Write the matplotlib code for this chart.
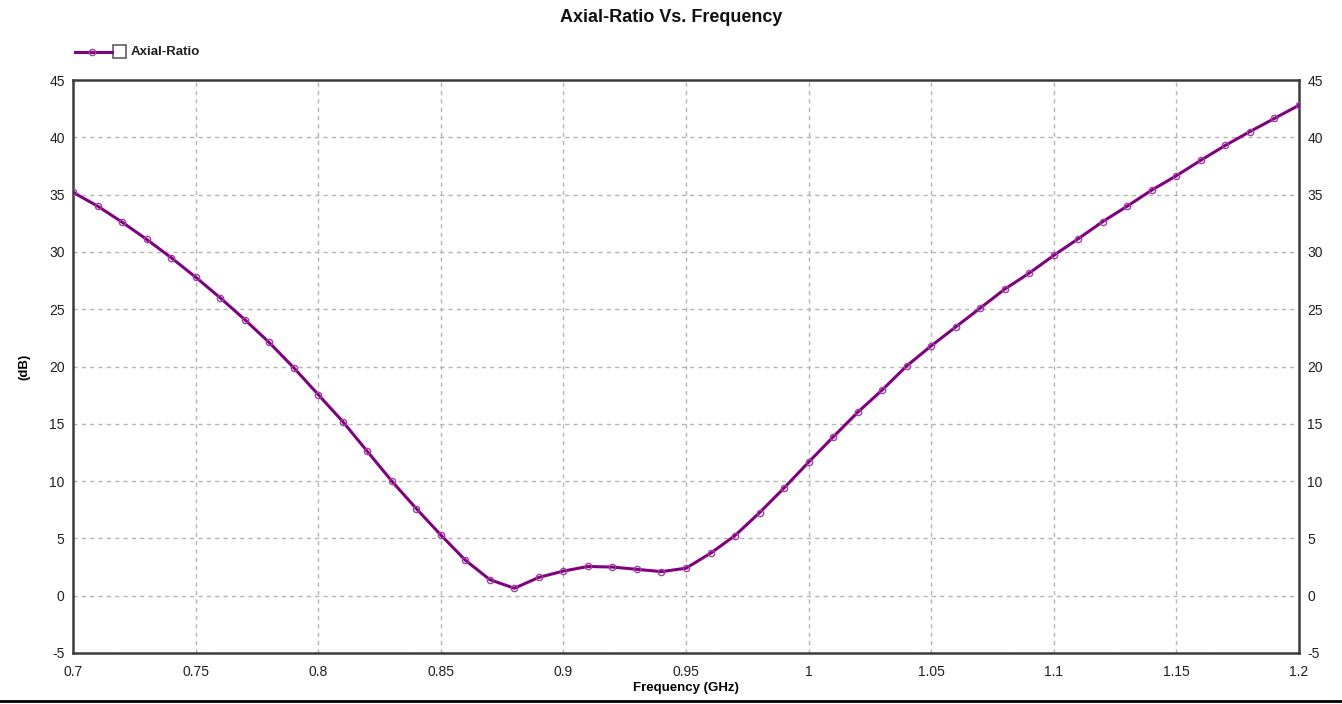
import matplotlib
matplotlib.use("Agg")
import matplotlib.pyplot as plt
from matplotlib.lines import Line2D
from matplotlib.patches import Rectangle

plt.rcParams['font.family'] = ['Liberation Sans', 'DejaVu Sans']
plt.rcParams['axes.unicode_minus'] = False

# Axial ratio sweep, 0.70 - 1.20 GHz in 10 MHz steps
freq_ghz = [0.70, 0.71, 0.72, 0.73, 0.74, 0.75, 0.76, 0.77, 0.78, 0.79,
            0.80, 0.81, 0.82, 0.83, 0.84, 0.85, 0.86, 0.87, 0.88, 0.89,
            0.90, 0.91, 0.92, 0.93, 0.94, 0.95, 0.96, 0.97, 0.98, 0.99,
            1.00, 1.01, 1.02, 1.03, 1.04, 1.05, 1.06, 1.07, 1.08, 1.09,
            1.10, 1.11, 1.12, 1.13, 1.14, 1.15, 1.16, 1.17, 1.18, 1.19,
            1.20]
axial_ratio_db = [35.2, 34.0, 32.6, 31.1, 29.5, 27.8, 26.0, 24.1, 22.1, 19.9,
                  17.55, 15.2, 12.6, 10.0, 7.6, 5.3, 3.1, 1.4, 0.65, 1.6,
                  2.15, 2.55, 2.5, 2.3, 2.1, 2.4, 3.7, 5.25, 7.25, 9.4,
                  11.65, 13.85, 16.0, 17.95, 20.05, 21.8, 23.45, 25.1, 26.75, 28.15,
                  29.7, 31.15, 32.65, 34.0, 35.4, 36.65, 38.0, 39.3, 40.5, 41.65,
                  42.8]

x_ticks = [0.7, 0.75, 0.8, 0.85, 0.9, 0.95, 1.0, 1.05, 1.1, 1.15, 1.2]
x_tick_labels = ['0.7', '0.75', '0.8', '0.85', '0.9', '0.95', '1', '1.05', '1.1', '1.15', '1.2']
y_ticks = [-5, 0, 5, 10, 15, 20, 25, 30, 35, 40, 45]

line_color = '#800080'
frame_color = '#3c3c3c'
grid_color = '#b4b4b4'

fig = plt.figure(figsize=(13.42, 7.04), dpi=100)
ax = fig.add_axes([73 / 1342, 1 - 653 / 704, (1299 - 73) / 1342, (653 - 80) / 704])

ax.plot(freq_ghz, axial_ratio_db, color=line_color, lw=2.2, marker='o',
        ms=4.5, mfc='none', mec='#a040a0', mew=1.0, zorder=3)

ax.set_xlim(0.7, 1.2)
ax.set_ylim(-5, 45)
ax.set_xticks(x_ticks)
ax.set_xticklabels(x_tick_labels)
ax.set_yticks(y_ticks)
ax.grid(True, color=grid_color, ls=(0, (3, 3)), lw=1.0)
ax.tick_params(axis='both', length=0, labelsize=10, colors='#202020')
ax.tick_params(axis='x', pad=9)
ax.tick_params(axis='y', pad=6, labelright=True, right=False)

for side in ['left', 'right', 'top', 'bottom']:
    ax.spines[side].set_color(frame_color)
    ax.spines[side].set_linewidth(1.8)

ax.set_xlabel('Frequency (GHz)', fontsize=9.5, fontweight='bold', labelpad=2)
ax.set_ylabel('(dB)', fontsize=9.5, fontweight='bold')
ax.yaxis.set_label_coords((30 - 73) / 1226, 0.5)

fig.text(0.5, 1 - 18 / 704, 'Axial-Ratio Vs. Frequency', ha='center', va='center',
         fontsize=13, fontweight='bold', color='#101010')

# Legend entry: line sample with marker, check box and series name
ly = 1 - 52 / 704
fig.add_artist(Line2D([75 / 1342, 112 / 1342], [ly, ly], color=line_color, lw=2.2))
fig.add_artist(Line2D([92 / 1342], [ly], color=line_color, marker='o', ms=4.5,
                      mfc='none', mec='#a040a0', mew=1.0, ls='none'))
fig.add_artist(Rectangle((113 / 1342, 1 - 58 / 704), 13 / 1342, 13 / 704,
                         transform=fig.transFigure, fill=False, ec='#606060', lw=1.2))
fig.text(131 / 1342, ly, 'Axial-Ratio', ha='left', va='center', fontsize=9.5,
         fontweight='bold', color='#202020')

# Rule along the bottom of the figure
fig.add_artist(Line2D([0, 1], [3 / 704, 3 / 704], color='black', lw=2))

fig.savefig('out.png', dpi=100, facecolor='white')
